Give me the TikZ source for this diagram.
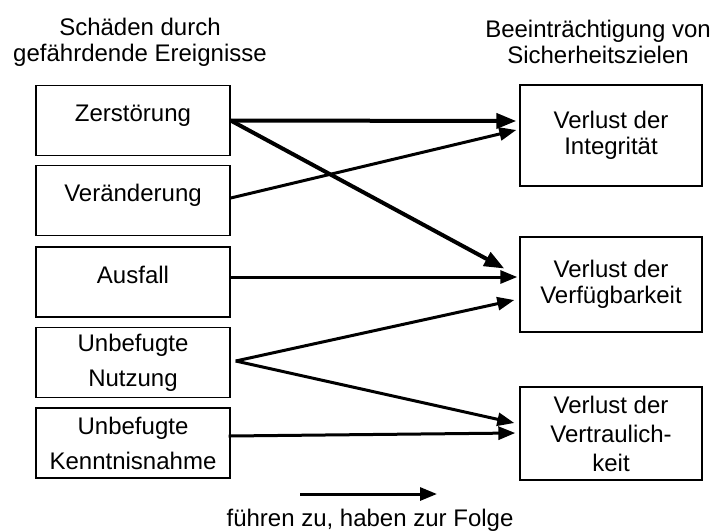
\documentclass[tikz,border=0pt]{standalone}
\usepackage{fontspec}
\setmainfont{Liberation Sans}
\usetikzlibrary{arrows.meta,calc}

\begin{document}
\begin{tikzpicture}[
    x=0.5pt, y=-0.5pt,
    every node/.style={font=\fontsize{12}{13}\selectfont},
    cause/.style={draw, line width=0.7pt, minimum width=97pt,
                  minimum height=35pt, inner sep=0pt, align=center},
    oneline/.style={text height=8.5pt, text depth=7.5pt},
    effect/.style={draw, line width=0.7pt, minimum width=91pt,
                   inner sep=0pt, align=center},
    head/.style={align=center},
    conn/.style={line width=1.5pt, -{Triangle[length=8.5pt,width=6.5pt]}},
    strong/.style={line width=2pt, -{Triangle[length=10pt,width=7.5pt]}}
]
\useasboundingbox (0,0) rectangle (716,531);

% Headings
\node[head] (srchead) at (140,42) {Schäden durch\\gefährdende Ereignisse};
\node[head] (effhead) at (598,42) {Beeinträchtigung von\\Sicherheitszielen};

% Damages
\node[cause, oneline] (zer) at (133,120.5) {Zerstörung};
\node[cause, oneline] (ver) at (133,200.5) {Veränderung};
\node[cause, oneline] (aus) at (133,282) {Ausfall};
\node[cause] (nutz) at (133,362.5) {Unbefugte\\[4.5pt]Nutzung};
\node[cause] (kenn) at (133,443) {Unbefugte\\[4.5pt]Kenntnisnahme};

% Security goals
\node[effect, minimum height=50.5pt] (integ) at (611,135.5) {Verlust der\\Integrität};
\node[effect, minimum height=47.5pt] (verf) at (611,284.5) {Verlust der\\Verfügbarkeit};
\node[effect, minimum height=46.5pt] (vert) at (611,433.5)
    {Verlust der\\[1.5pt]Vertraulich-\\[1.5pt]keit};

% Consequences
\draw[strong] (zer.east) -- ($(integ.west)+(-3,-14.5)$);
\draw[strong] (zer.east) -- ($(verf.west)+(-15,-16)$);
\draw[conn] ($(ver.east)+(0,-2.5)$) -- ($(integ.west)+(-3,-5.5)$);
\draw[conn] ($(aus.east)+(0,-5)$) -- ($(verf.west)+(-2,-7.5)$);
\coordinate (fork) at ($(nutz.east)+(5,-1.5)$);
\draw[conn] (fork) -- ($(verf.west)+(-5,15.5)$);
\draw[conn] (fork) -- ($(vert.west)+(-5,-10.5)$);
\draw[conn] ($(kenn.east)+(-2,-7)$) -- ($(vert.west)+(-4,-0.5)$);

% Legend
\coordinate (lgstart) at (300,494);
\coordinate (lgend) at (437,494);
\draw[conn] (lgstart) -- (lgend);
\node (lgtext) at (370,520) {führen zu, haben zur Folge};
\end{tikzpicture}
\end{document}
